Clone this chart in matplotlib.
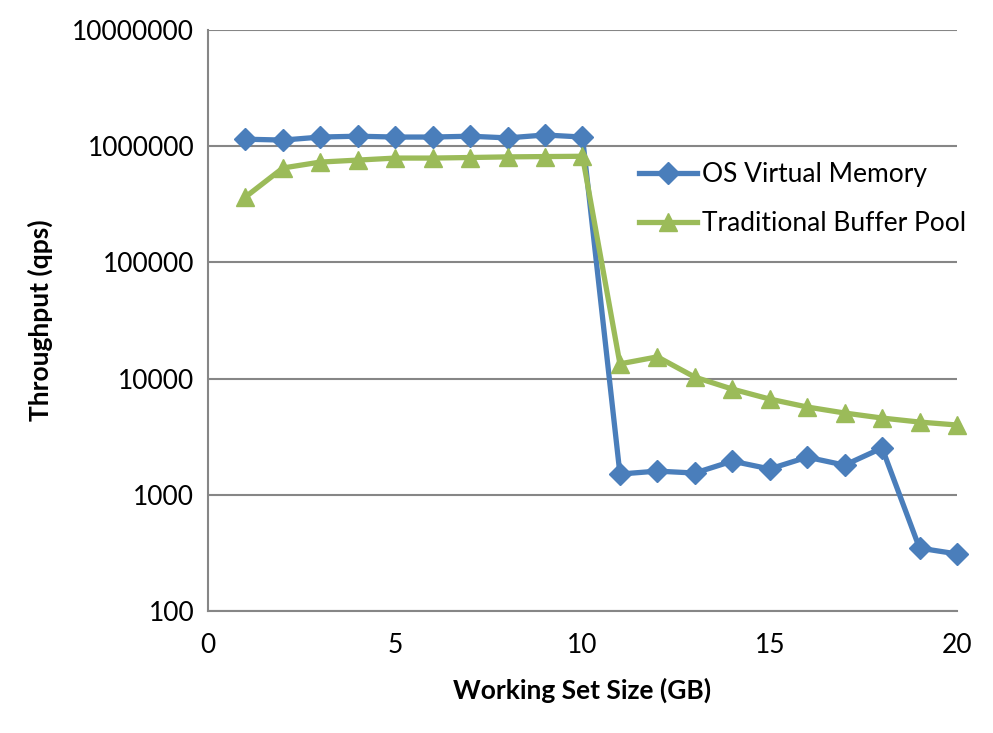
import matplotlib
matplotlib.use("Agg")
import matplotlib.pyplot as plt

# Working set size (GB)
sizes = list(range(1, 21))

os_virtual_memory = [1150000, 1130000, 1200000, 1220000, 1200000,
                     1200000, 1220000, 1180000, 1250000, 1200000,
                     1510, 1600, 1540, 1950, 1670,
                     2110, 1800, 2530, 348, 310]

buffer_pool = [366000, 650000, 731000, 760000, 791000,
               791000, 800000, 810000, 815000, 820000,
               13400, 15400, 10300, 8130, 6670,
               5700, 5060, 4580, 4230, 3990]

y_ticks = [100, 1000, 10000, 100000, 1000000, 10000000]
x_ticks = [0, 5, 10, 15, 20]

plt.rcParams['font.family'] = ['Lato', 'DejaVu Sans']

fig = plt.figure(figsize=(9.93, 7.33), dpi=100)
ax = fig.add_axes([0.2095, 0.1664, 0.7542, 0.7926])

ax.plot(sizes, os_virtual_memory, color='#4A7EBB', lw=3.8, marker='D',
        ms=11, label='OS Virtual Memory', zorder=3, clip_on=False)
ax.plot(sizes, buffer_pool, color='#9BBB59', lw=3.8, marker='^',
        ms=13, label='Traditional Buffer Pool', zorder=3, clip_on=False)

ax.set_yscale('log')
ax.set_ylim(100, 10000000)
ax.set_xlim(0, 20)
ax.set_yticks(y_ticks)
ax.set_yticklabels([str(v) for v in y_ticks])
ax.minorticks_off()
ax.set_xticks(x_ticks)
ax.tick_params(axis='y', length=0, labelsize=19, pad=10)
ax.tick_params(axis='x', length=0, labelsize=19, pad=16)

ax.grid(axis='y', color='#868686', lw=1.5)
ax.set_axisbelow(True)
for s in ['top', 'right']:
    ax.spines[s].set_visible(False)
ax.spines['left'].set_color('#868686')
ax.spines['bottom'].set_color('#868686')
ax.spines['left'].set_linewidth(1.5)
ax.spines['bottom'].set_linewidth(1.5)

ax.set_xlabel('Working Set Size (GB)', fontsize=19, fontweight='bold', labelpad=14)
ax.set_ylabel('Throughput (qps)', fontsize=19, fontweight='bold', labelpad=14)

ax.legend(loc='upper left', bbox_to_anchor=(0.561, 0.791), frameon=False,
          fontsize=19, handlelength=2.2, handletextpad=0.2, labelspacing=0.9,
          borderaxespad=0)

fig.savefig('out.png', dpi=100)
